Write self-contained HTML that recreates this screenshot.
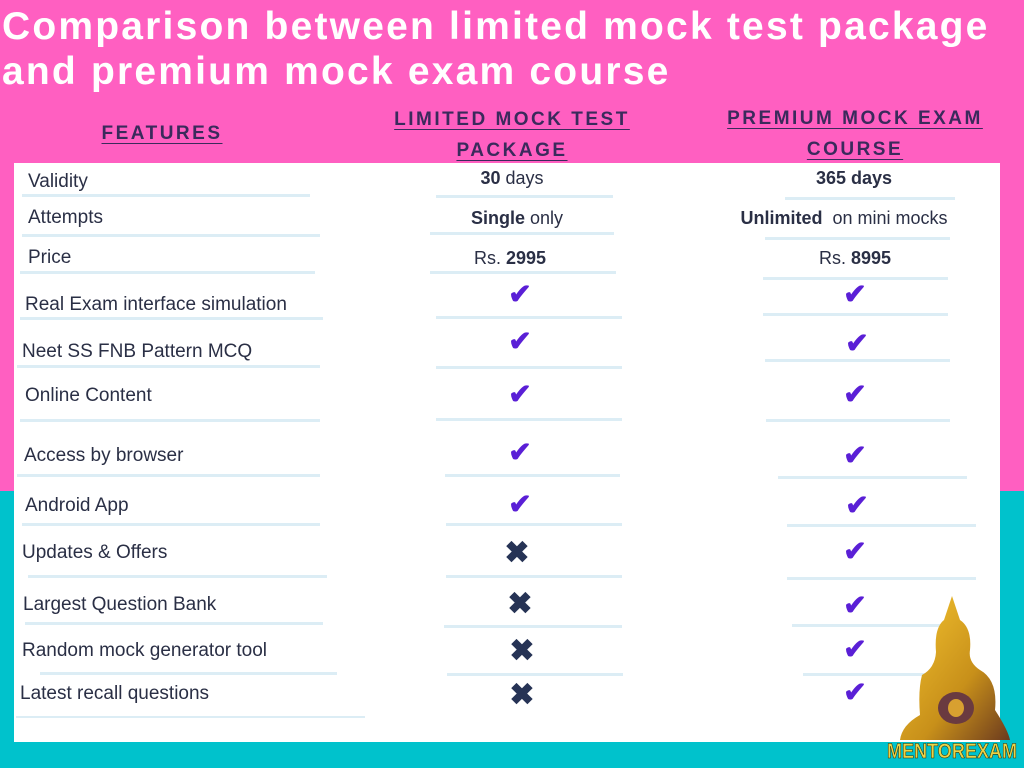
<!DOCTYPE html>
<html><head><meta charset="utf-8"><style>
*{margin:0;padding:0;box-sizing:border-box}
body{width:1024px;height:768px;position:relative;overflow:hidden;background:#00c2cc;font-family:"Liberation Sans",sans-serif}
.pink{position:absolute;left:0;top:0;width:1024px;height:491px;background:#ff5fc1}
.panel{position:absolute;left:14px;top:163px;width:986px;height:579px;background:#fff}
.t{position:absolute;color:#2a2f45;font-size:19px;white-space:nowrap}
.c{position:absolute;color:#2a2f45;font-size:18px;white-space:nowrap;transform:translateX(-50%)}
.l{position:absolute;height:3px;background:#dcedf5}
.h{position:absolute;color:#3b2a5c;font-weight:bold;font-size:19px;letter-spacing:2.5px;text-decoration:underline;text-underline-offset:4px;text-align:center;line-height:31px;transform:translateX(-50%);white-space:nowrap}
.ck{position:absolute;color:#5a1fd6;font-size:28px;font-weight:bold;transform:translate(-50%,-50%)}
.x{position:absolute;color:#263355;font-size:30px;font-weight:bold;transform:translate(-50%,-50%)}
h1{position:absolute;left:2px;top:4px;color:#fff;font-size:39px;font-weight:bold;line-height:45px;letter-spacing:2.2px;white-space:nowrap}
</style></head><body>
<div class="pink"></div>
<div class="panel"></div>
<h1>Comparison between limited mock test package<br>and premium mock exam course</h1>
<div class="h" style="left:162px;top:118px">FEATURES</div>
<div class="h" style="left:512px;top:104px">LIMITED MOCK TEST<br>PACKAGE</div>
<div class="h" style="left:855px;top:103px">PREMIUM MOCK EXAM<br>COURSE</div>

<div class="t" style="left:28px;top:171px">Validity</div>
<div class="t" style="left:28px;top:207px">Attempts</div>
<div class="t" style="left:28px;top:247px">Price</div>
<div class="t" style="left:25px;top:294px">Real Exam interface simulation</div>
<div class="t" style="left:22px;top:341px">Neet SS FNB Pattern MCQ</div>
<div class="t" style="left:25px;top:385px">Online Content</div>
<div class="t" style="left:24px;top:445px">Access by browser</div>
<div class="t" style="left:25px;top:495px">Android App</div>
<div class="t" style="left:22px;top:542px">Updates &amp; Offers</div>
<div class="t" style="left:23px;top:594px">Largest Question Bank</div>
<div class="t" style="left:22px;top:640px">Random mock generator tool</div>
<div class="t" style="left:20px;top:683px">Latest recall questions</div>

<div class="c" style="left:512px;top:168px"><b>30</b> days</div>
<div class="c" style="left:517px;top:208px"><b>Single</b> only</div>
<div class="c" style="left:510px;top:248px">Rs. <b>2995</b></div>
<div class="c" style="left:854px;top:168px"><b>365 days</b></div>
<div class="c" style="left:844px;top:208px"><b>Unlimited</b>&nbsp; on mini mocks</div>
<div class="c" style="left:855px;top:248px">Rs. <b>8995</b></div>

<div class="ck" style="left:520px;top:294px">✔</div><div class="ck" style="left:855px;top:294px">✔</div>
<div class="ck" style="left:520px;top:341px">✔</div><div class="ck" style="left:857px;top:343px">✔</div>
<div class="ck" style="left:520px;top:394px">✔</div><div class="ck" style="left:855px;top:394px">✔</div>
<div class="ck" style="left:520px;top:452px">✔</div><div class="ck" style="left:855px;top:455px">✔</div>
<div class="ck" style="left:520px;top:504px">✔</div><div class="ck" style="left:857px;top:505px">✔</div>
<div class="x" style="left:517px;top:553px">✖</div><div class="ck" style="left:855px;top:551px">✔</div>
<div class="x" style="left:520px;top:604px">✖</div><div class="ck" style="left:855px;top:605px">✔</div>
<div class="x" style="left:522px;top:651px">✖</div><div class="ck" style="left:855px;top:649px">✔</div>
<div class="x" style="left:522px;top:695px">✖</div><div class="ck" style="left:855px;top:692px">✔</div>

<div class="l" style="left:22px;top:194px;width:288px"></div>
<div class="l" style="left:22px;top:234px;width:298px"></div>
<div class="l" style="left:20px;top:271px;width:295px"></div>
<div class="l" style="left:20px;top:317px;width:303px"></div>
<div class="l" style="left:17px;top:365px;width:303px"></div>
<div class="l" style="left:20px;top:419px;width:300px"></div>
<div class="l" style="left:17px;top:474px;width:303px"></div>
<div class="l" style="left:22px;top:523px;width:298px"></div>
<div class="l" style="left:28px;top:575px;width:299px"></div>
<div class="l" style="left:25px;top:622px;width:298px"></div>
<div class="l" style="left:40px;top:672px;width:297px"></div>
<div class="l" style="left:16px;top:716px;width:349px;height:2px"></div>

<div class="l" style="left:436px;top:195px;width:177px"></div>
<div class="l" style="left:430px;top:232px;width:184px"></div>
<div class="l" style="left:430px;top:271px;width:186px"></div>
<div class="l" style="left:436px;top:316px;width:186px"></div>
<div class="l" style="left:436px;top:366px;width:186px"></div>
<div class="l" style="left:436px;top:418px;width:186px"></div>
<div class="l" style="left:445px;top:474px;width:175px"></div>
<div class="l" style="left:446px;top:523px;width:176px"></div>
<div class="l" style="left:446px;top:575px;width:176px"></div>
<div class="l" style="left:444px;top:625px;width:178px"></div>
<div class="l" style="left:447px;top:673px;width:176px"></div>

<div class="l" style="left:785px;top:197px;width:170px"></div>
<div class="l" style="left:765px;top:237px;width:185px"></div>
<div class="l" style="left:763px;top:277px;width:185px"></div>
<div class="l" style="left:763px;top:313px;width:185px"></div>
<div class="l" style="left:765px;top:359px;width:185px"></div>
<div class="l" style="left:766px;top:419px;width:184px"></div>
<div class="l" style="left:778px;top:476px;width:189px"></div>
<div class="l" style="left:787px;top:524px;width:189px"></div>
<div class="l" style="left:787px;top:577px;width:189px"></div>
<div class="l" style="left:792px;top:624px;width:168px"></div>
<div class="l" style="left:803px;top:673px;width:167px"></div>

<svg style="position:absolute;left:880px;top:590px" width="144" height="178" viewBox="0 0 144 178">
<defs><linearGradient id="g" x1="0" y1="0" x2="1" y2="1"><stop offset="0" stop-color="#f5c530"/><stop offset="0.6" stop-color="#c8901a"/><stop offset="1" stop-color="#6b3a1e"/></linearGradient></defs>
<path d="M72 6 L80 30 Q92 38 90 60 Q88 72 100 80 Q118 90 115 120 Q128 140 130 150 L20 150 Q22 135 40 125 Q38 100 42 85 Q55 78 56 62 Q54 38 64 30 Z" fill="url(#g)"/>
<ellipse cx="76" cy="118" rx="18" ry="16" fill="#6a3a40"/>
<ellipse cx="76" cy="118" rx="8" ry="9" fill="#d8a030"/>
<text x="72" y="168" font-family="Liberation Sans" font-weight="bold" font-size="21" fill="#e8d44a" stroke="#3a3000" stroke-width="0.6" text-anchor="middle" textLength="130" lengthAdjust="spacingAndGlyphs">MENTOREXAM</text>
</svg>
</body></html>
